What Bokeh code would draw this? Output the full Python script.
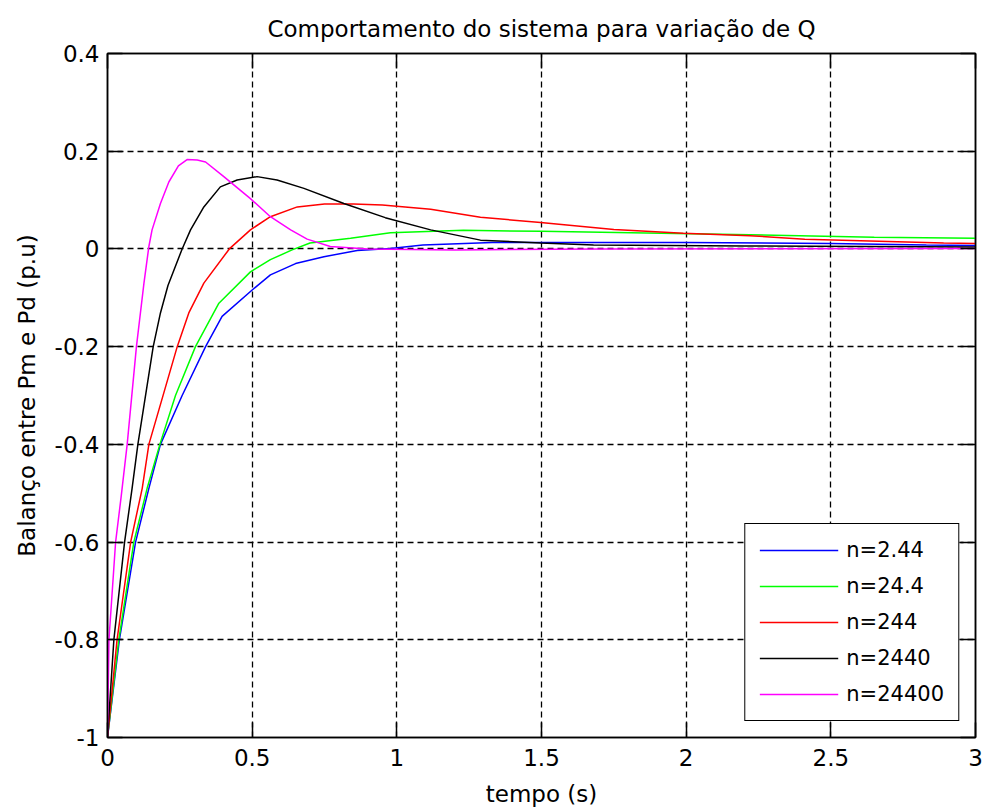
from bokeh.plotting import figure
from bokeh.models import Range1d, LinearAxis, FixedTicker, Legend, LegendItem
from bokeh.embed import file_html
from bokeh.resources import INLINE

# ---- data ----
t_n244e_2 = [0, 0.041, 0.097, 0.143, 0.183, 0.258, 0.339, 0.396, 0.5, 0.563, 0.65, 0.748, 0.863, 0.978, 1.09, 1.33, 2.0, 2.5, 2.83, 3.0]
y_n244e_2 = [-1, -0.8, -0.6, -0.49, -0.4, -0.30, -0.2, -0.138, -0.084, -0.053, -0.03, -0.016, -0.003, 0.001, 0.008, 0.013, 0.013, 0.011, 0.008, 0.007]

t_n244e_1 = [0, 0.039, 0.091, 0.137, 0.181, 0.235, 0.304, 0.385, 0.494, 0.563, 0.638, 0.70, 0.84, 0.978, 1.23, 1.5, 1.81, 2.22, 2.65, 3.0]
y_n244e_1 = [-1, -0.8, -0.6, -0.49, -0.4, -0.30, -0.2, -0.111, -0.047, -0.022, -0.002, 0.012, 0.022, 0.033, 0.038, 0.036, 0.033, 0.029, 0.024, 0.022]

t_n244 = [0, 0.033, 0.08, 0.12, 0.143, 0.241, 0.281, 0.333, 0.421, 0.494, 0.563, 0.656, 0.75, 0.85, 0.95, 1.117, 1.289, 1.497, 1.75, 1.99, 2.22, 2.41, 2.89, 3.0]
y_n244 = [-1, -0.8, -0.6, -0.49, -0.4, -0.2, -0.131, -0.07, 0.0, 0.039, 0.066, 0.086, 0.092, 0.092, 0.09, 0.081, 0.065, 0.054, 0.04, 0.032, 0.027, 0.02, 0.012, 0.011]

t_n2440 = [0, 0.022, 0.059, 0.085, 0.105, 0.158, 0.183, 0.209, 0.258, 0.287, 0.333, 0.39, 0.448, 0.517, 0.586, 0.679, 0.817, 0.96, 1.117, 1.289, 1.497, 1.68, 2.2, 3.0]
y_n2440 = [-1, -0.8, -0.6, -0.49, -0.4, -0.2, -0.131, -0.075, 0.0, 0.039, 0.086, 0.127, 0.141, 0.148, 0.141, 0.124, 0.093, 0.064, 0.039, 0.018, 0.012, 0.008, 0.006, 0.004]

t_n24400 = [0, 0.005, 0.028, 0.047, 0.068, 0.1, 0.126, 0.143, 0.154, 0.183, 0.212, 0.245, 0.275, 0.31, 0.339, 0.402, 0.494, 0.563, 0.633, 0.69, 0.77, 0.9, 1.2, 1.7, 3.0]
y_n24400 = [-1, -0.8, -0.6, -0.508, -0.4, -0.2, -0.07, 0.005, 0.039, 0.093, 0.137, 0.17, 0.183, 0.182, 0.178, 0.148, 0.103, 0.066, 0.039, 0.02, 0.005, 0.0, -0.002, 0.0, 0.001]

series_labels = ["n=2.44", "n=24.4", "n=244", "n=2440", "n=24400"]
series_colors = ["#0000ff", "#00ff00", "#ff0000", "#000000", "#ff00ff"]

x_ticks = [0, 0.5, 1, 1.5, 2, 2.5, 3]
x_tick_labels = ["0", "0.5", "1", "1.5", "2", "2.5", "3"]
y_ticks = [-1, -0.8, -0.6, -0.4, -0.2, 0, 0.2, 0.4]
y_tick_labels = ["-1", "-0.8", "-0.6", "-0.4", "-0.2", "0", "0.2", "0.4"]

title_text = "Comportamento do sistema para variação de Q"
x_label = "tempo (s)"
y_label = "Balanço entre Pm e Pd (p.u)"

FONT = "DejaVu Sans"

p = figure(width=984, height=809, output_backend="svg", toolbar_location=None,
           x_range=Range1d(0, 3), y_range=Range1d(-1, 0.4),
           min_border_left=107, min_border_right=9, min_border_top=53, min_border_bottom=70,
           background_fill_color="white", border_fill_color="white")

p.title.text = title_text
p.title.align = "center"
p.title.text_font = FONT
p.title.text_font_size = "23px"
p.title.text_font_style = "normal"
p.title.text_color = "#000000"
p.title.standoff = 24

p.outline_line_color = "black"
p.outline_line_width = 1.5

xt = FixedTicker(ticks=x_ticks)
yt = FixedTicker(ticks=y_ticks)

for ax in p.xaxis:
    ax.ticker = xt
    ax.major_label_overrides = {v: s for v, s in zip(x_ticks, x_tick_labels)}
    ax.axis_label = x_label
    ax.major_label_standoff = 11
    ax.axis_label_standoff = 12
for ax in p.yaxis:
    ax.ticker = yt
    ax.major_label_overrides = {v: s for v, s in zip(y_ticks, y_tick_labels)}
    ax.axis_label = y_label
    ax.major_label_standoff = 8
    ax.axis_label_standoff = 12

for ax in list(p.xaxis) + list(p.yaxis):
    ax.axis_line_color = "black"
    ax.axis_line_width = 1.5
    ax.major_tick_in = 15
    ax.major_tick_out = 0
    ax.major_tick_line_color = "black"
    ax.major_tick_line_width = 1.5
    ax.minor_tick_line_color = None
    ax.major_label_text_font = FONT
    ax.major_label_text_font_size = "23px"
    ax.major_label_text_color = "black"
    ax.axis_label_text_font = FONT
    ax.axis_label_text_font_size = "23px"
    ax.axis_label_text_font_style = "normal"
    ax.axis_label_text_color = "black"

top_ax = LinearAxis(ticker=xt, major_label_text_color=None, major_label_text_font_size="1px",
                    major_label_standoff=0,
                    major_tick_in=15, major_tick_out=0, minor_tick_line_color=None,
                    axis_line_width=1.5, major_tick_line_width=1.5)
right_ax = LinearAxis(ticker=yt, major_label_text_color=None, major_label_text_font_size="2px",
                      major_label_standoff=0,
                      major_tick_in=15, major_tick_out=0, minor_tick_line_color=None,
                      axis_line_width=1.5, major_tick_line_width=1.5)
p.add_layout(top_ax, "above")
p.add_layout(right_ax, "right")

for g in (p.xgrid, p.ygrid):
    g.grid_line_color = "black"
    g.grid_line_dash = "6 4"
    g.grid_line_width = 1.3
p.xgrid.ticker = xt
p.ygrid.ticker = yt

ts = [t_n244e_2, t_n244e_1, t_n244, t_n2440, t_n24400]
ys = [y_n244e_2, y_n244e_1, y_n244, y_n2440, y_n24400]
items = []
for t, y, lab, col in zip(ts, ys, series_labels, series_colors):
    r = p.line(t, y, line_color=col, line_width=1.5)
    items.append(LegendItem(label=lab, renderers=[r]))

leg = Legend(items=items, location="bottom_right", margin=16,
             glyph_width=79, glyph_height=24, label_height=24,
             label_standoff=8, spacing=12, padding=14,
             label_text_font=FONT, label_text_font_size="21px", label_text_color="black",
             border_line_color="black", border_line_width=1.5, border_line_alpha=1,
             background_fill_color="white", background_fill_alpha=1)
p.add_layout(leg, "center")

open("out.html", "w").write(file_html(p, INLINE))
